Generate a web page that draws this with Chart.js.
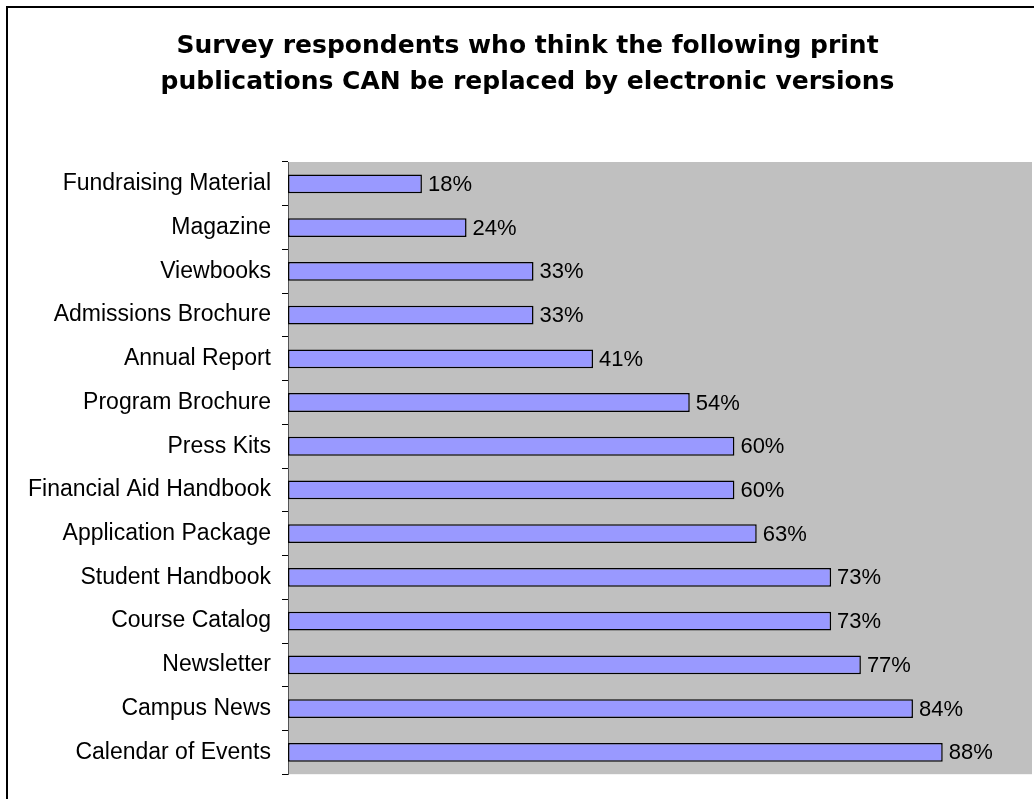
<!DOCTYPE html>
<html>
<head>
<meta charset="utf-8">
<script src="https://cdn.jsdelivr.net/npm/chart.js@4/dist/chart.umd.min.js"></script>
<style>
  html, body { margin: 0; padding: 0; background: #fff; }
  #wrap { width: 1034px; height: 799px; }
</style>
</head>
<body>
<div id="wrap"><canvas id="c" width="1034" height="799"></canvas></div>
<script>
// Publications, listed top to bottom
const publications = [
  'Fundraising Material', 'Magazine', 'Viewbooks', 'Admissions Brochure',
  'Annual Report', 'Program Brochure', 'Press Kits', 'Financial Aid Handbook',
  'Application Package', 'Student Handbook', 'Course Catalog', 'Newsletter',
  'Campus News', 'Calendar of Events'
];
// Share of respondents (%) who think each can be replaced electronically
const replaceablePct = [18, 24, 33, 33, 41, 54, 60, 60, 63, 73, 73, 77, 84, 88];

const titleLines = [
  'Survey respondents who think the following print',
  'publications CAN be replaced by electronic versions'
];

// Frame around the chart and grey plot background
const backdrop = {
  id: 'backdrop',
  beforeDraw(chart) {
    const { ctx, chartArea: a } = chart;
    ctx.save();
    ctx.fillStyle = '#ffffff';
    ctx.fillRect(0, 0, chart.width, chart.height);
    ctx.strokeStyle = '#000000';
    ctx.lineWidth = 2;
    ctx.beginPath();
    ctx.moveTo(7, chart.height + 5);
    ctx.lineTo(7, 7);
    ctx.lineTo(chart.width + 5, 7);
    ctx.stroke();
    ctx.fillStyle = '#C0C0C0';
    ctx.fillRect(a.left, a.top, a.right - a.left, a.bottom - a.top);
    ctx.restore();
  }
};

// Percentage label at the end of each bar
const valueLabels = {
  id: 'valueLabels',
  afterDatasetsDraw(chart) {
    const { ctx } = chart;
    const meta = chart.getDatasetMeta(0);
    const values = chart.data.datasets[0].data;
    ctx.save();
    ctx.font = '22px "Liberation Sans", Arial, sans-serif';
    ctx.fillStyle = '#000000';
    ctx.textAlign = 'left';
    ctx.textBaseline = 'middle';
    meta.data.forEach((bar, i) => {
      ctx.fillText(values[i] + '%', bar.x + 6, bar.y + 1);
    });
    ctx.restore();
  }
};

new Chart(document.getElementById('c'), {
  type: 'bar',
  data: {
    labels: publications,
    datasets: [{
      data: replaceablePct,
      backgroundColor: '#9999FF',
      borderColor: '#000000',
      borderWidth: 1.5,
      borderSkipped: false,
      categoryPercentage: 1.0,
      barPercentage: 0.43
    }]
  },
  options: {
    indexAxis: 'y',
    responsive: false,
    animation: false,
    events: [],
    layout: { padding: { left: 23, right: 2, top: 0, bottom: 12 } },
    plugins: {
      legend: { display: false },
      tooltip: { enabled: false },
      title: {
        display: true,
        text: titleLines,
        color: '#000000',
        font: { family: '"DejaVu Sans", Verdana, sans-serif', size: 25, weight: 'bold', lineHeight: 1.44 },
        padding: { top: 28, bottom: 62 }
      }
    },
    scales: {
      x: {
        display: false,
        min: 0,
        max: 100
      },
      y: {
        offset: true,
        afterFit(scale) { scale.width = 265; },
        border: { display: true, color: '#555555', width: 1 },
        grid: {
          offset: true,
          drawOnChartArea: false,
          drawTicks: true,
          tickLength: 6,
          color: '#000000'
        },
        ticks: {
          color: '#000000',
          padding: 11,
          font: { family: '"Liberation Sans", Arial, sans-serif', size: 23 }
        }
      }
    }
  },
  plugins: [backdrop, valueLabels]
});
</script>
</body>
</html>
